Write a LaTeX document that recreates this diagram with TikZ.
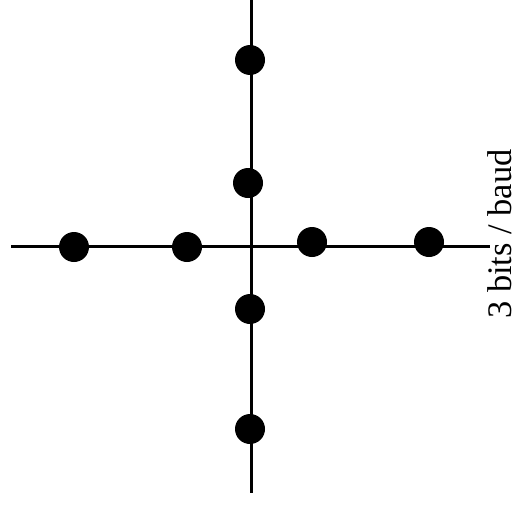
\documentclass[tikz,border=0pt]{standalone}
\usepackage{fontspec}
\setmainfont{Liberation Serif}
\tikzset{
    axis/.style={line width=0.06cm},
    symbol/.style={circle, fill=black, inner sep=0pt, minimum size=0.6cm}
}
\begin{document}
\begin{tikzpicture}[x=0.02cm,y=-0.02cm]
        \useasboundingbox (0,0) rectangle (519,504);
        % Axes
        \coordinate (left) at (11,246);
        \coordinate (right) at (490,246);
        \coordinate (top) at (251,0);
        \coordinate (bottom) at (251,493);
        \draw[axis] (left) -- (right);
        \draw[axis] (top) -- (bottom);
        % Symbols on the horizontal axis
        \node[symbol] (h1) at (74,247) {};
        \node[symbol] (h2) at (187,247) {};
        \node[symbol] (h3) at (312,242) {};
        \node[symbol] (h4) at (429,242) {};
        % Symbols on the vertical axis
        \node[symbol] (v1) at (250,60) {};
        \node[symbol] (v2) at (248,183) {};
        \node[symbol] (v3) at (250,309) {};
        \node[symbol] (v4) at (250,429) {};
        % Label
        \node[rotate=90, inner sep=0pt, font=\fontsize{19.6}{22}\selectfont] (rate) at (500,234) {3 bits / baud};
    \end{tikzpicture}
\end{document}
